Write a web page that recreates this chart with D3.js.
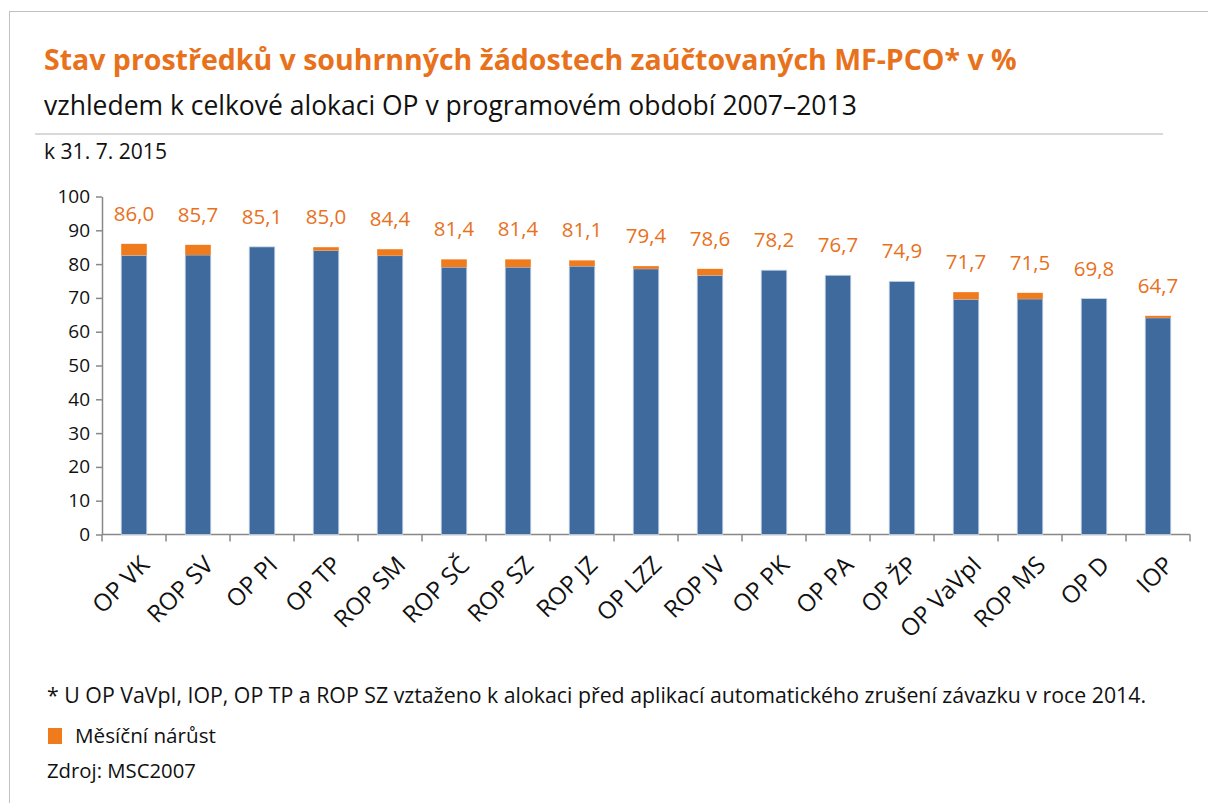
<!DOCTYPE html>
<html>
<head>
<meta charset="utf-8">
<script src="https://cdn.jsdelivr.net/npm/d3@7"></script>
<style>
  body { margin: 0; background: #fff; }
  text { font-family: "Open Sans", "Noto Sans", sans-serif; }
</style>
</head>
<body>
<div class="chartHolder"></div>
<script>
var width = 1208;
var height = 803;

// data
var programs = ["OP VK", "ROP SV", "OP PI", "OP TP", "ROP SM", "ROP SČ", "ROP SZ", "ROP JZ",
  "OP LZZ", "ROP JV", "OP PK", "OP PA", "OP ŽP", "OP VaVpI", "ROP MS", "OP D", "IOP"];
var totals = [86.0, 85.7, 85.1, 85.0, 84.4, 81.4, 81.4, 81.1, 79.4, 78.6, 78.2, 76.7, 74.9, 71.7, 71.5, 69.8, 64.7];
var monthlyGrowth = [3.4, 3.0, 0, 1.0, 1.9, 2.3, 2.3, 1.7, 0.8, 1.9, 0, 0, 0, 2.1, 1.8, 0, 0.6];
var yTicks = [0, 10, 20, 30, 40, 50, 60, 70, 80, 90, 100];

var blue = "#3F6A9D";
var orange = "#F07B1C";
var labelOrange = "#E8711C";

var svg = d3.select(".chartHolder")
  .append("svg")
  .attr("width", width)
  .attr("height", height);

// frame
svg.append("rect")
  .attr("x", 9.5).attr("y", 11.5)
  .attr("width", 1220).attr("height", 820)
  .style("fill", "none").style("stroke", "#c0c0c0");

// shrink font until text fits the wanted width
function fitText(t, w) {
  var size = +t.attr("font-size");
  var len = t.node().getComputedTextLength();
  t.attr("font-size", size * w / len);
}

var title = svg.append("text")
  .attr("x", 44).attr("y", 70)
  .attr("font-size", 26).attr("font-weight", "bold")
  .style("fill", labelOrange)
  .text("Stav prostředků v souhrnných žádostech zaúčtovaných MF-PCO* v %");
fitText(title, 973);

var subtitle = svg.append("text")
  .attr("x", 44).attr("y", 115)
  .attr("font-size", 22)
  .style("fill", "#111")
  .text("vzhledem k celkové alokaci OP v programovém období 2007–2013");
fitText(subtitle, 813);

svg.append("line")
  .attr("x1", 35).attr("x2", 1163)
  .attr("y1", 134).attr("y2", 134)
  .style("stroke", "#d9d9d9").style("stroke-width", 2);

var dateText = svg.append("text")
  .attr("x", 44).attr("y", 159)
  .attr("font-size", 17)
  .style("fill", "#111")
  .text("k 31. 7. 2015");
fitText(dateText, 123);

// scales
var xScale = d3.scaleBand()
  .domain(programs)
  .range([102, 1190])
  .paddingInner(0.6)
  .paddingOuter(0.3);

var yScale = d3.scaleLinear()
  .domain([0, 100])
  .range([534.5, 196.5]);

// y axis
var yAxisGroup = svg.append("g")
  .attr("transform", "translate(102,0)")
  .call(d3.axisLeft(yScale).tickValues(yTicks).tickSize(6).tickPadding(6).tickSizeOuter(0));
yAxisGroup.selectAll("text").attr("font-size", 19).style("fill", "#111");

// x axis line with ticks at band edges
var step = xScale.step();
var edges = d3.range(programs.length + 1).map(function (i) { return 102 + i * step; });
var xAxisGroup = svg.append("g");
xAxisGroup.append("line")
  .attr("x1", 102).attr("x2", 1190)
  .attr("y1", yScale(0)).attr("y2", yScale(0));
xAxisGroup.selectAll(".edge")
  .data(edges)
  .enter()
  .append("line")
  .attr("class", "edge")
  .attr("x1", function (d) { return d; })
  .attr("x2", function (d) { return d; })
  .attr("y1", yScale(0)).attr("y2", yScale(0) + 7);
xAxisGroup.selectAll("line").style("stroke", "#888").style("stroke-width", 1.5);
yAxisGroup.selectAll("line, path").style("stroke", "#888").style("stroke-width", 1.5);

// bars
var baseValues = totals.map(function (d, i) { return d - monthlyGrowth[i]; });

svg.selectAll(".bar")
  .data(programs)
  .enter()
  .append("rect")
  .attr("class", "bar")
  .attr("x", function (d) { return xScale(d); })
  .attr("y", function (d, i) { return yScale(baseValues[i]); })
  .attr("width", xScale.bandwidth())
  .attr("height", function (d, i) { return yScale(0) - yScale(baseValues[i]); })
  .style("fill", blue)
  .style("stroke", "#c9d6e8").style("stroke-width", 0.8);

svg.selectAll(".growth")
  .data(programs.filter(function (d, i) { return monthlyGrowth[i] > 0; }))
  .enter()
  .append("rect")
  .attr("class", "growth")
  .attr("x", function (d) { return xScale(d); })
  .attr("y", function (d) { return yScale(totals[programs.indexOf(d)]); })
  .attr("width", xScale.bandwidth())
  .attr("height", function (d) {
    var i = programs.indexOf(d);
    return yScale(baseValues[i]) - yScale(totals[i]);
  })
  .style("fill", orange);

// value labels
svg.selectAll(".value")
  .data(programs)
  .enter()
  .append("text")
  .attr("class", "value")
  .attr("x", function (d) { return xScale(d) + xScale.bandwidth() / 2; })
  .attr("y", function (d, i) { return yScale(totals[i]) - 23; })
  .attr("text-anchor", "middle")
  .attr("font-size", 20.5)
  .style("fill", labelOrange)
  .text(function (d, i) { return totals[i].toFixed(1).replace(".", ","); });

// category labels
svg.selectAll(".cat")
  .data(programs)
  .enter()
  .append("text")
  .attr("class", "cat")
  .attr("text-anchor", "end")
  .attr("font-size", 24)
  .style("fill", "#111")
  .attr("transform", function (d) {
    var cx = xScale(d) + xScale.bandwidth() / 2 + 11;
    return "translate(" + cx + "," + (yScale(0) + 26) + ") rotate(-45)";
  })
  .attr("dy", "0.35em")
  .text(function (d) { return d; });

// footnote, legend, source
var note = svg.append("text")
  .attr("x", 47).attr("y", 703)
  .attr("font-size", 18)
  .style("fill", "#111")
  .text("* U OP VaVpI, IOP, OP TP a ROP SZ vztaženo k alokaci před aplikací automatického zrušení závazku v roce 2014.");
fitText(note, 1100);

svg.append("rect")
  .attr("x", 48).attr("y", 728)
  .attr("width", 14).attr("height", 16)
  .style("fill", orange);

var legendText = svg.append("text")
  .attr("x", 75).attr("y", 743)
  .attr("font-size", 18)
  .style("fill", "#111")
  .text("Měsíční nárůst");
fitText(legendText, 141);

var source = svg.append("text")
  .attr("x", 47).attr("y", 778)
  .attr("font-size", 18)
  .style("fill", "#111")
  .text("Zdroj: MSC2007");
fitText(source, 149);
</script>
</body>
</html>
